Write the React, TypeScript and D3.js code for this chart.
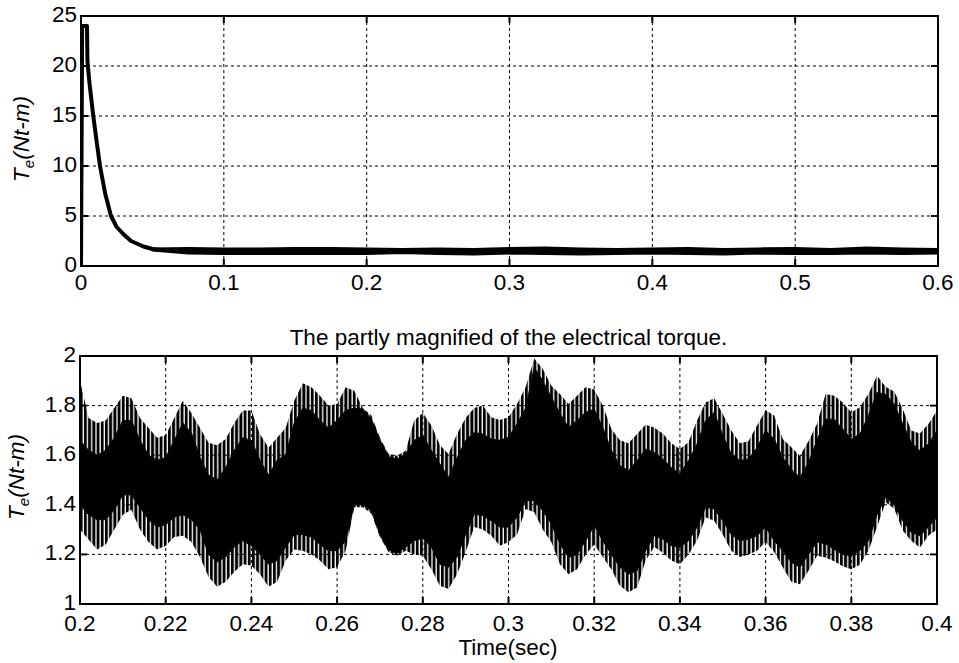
import React from 'react';
import * as d3 from 'd3';

// ---------- DATA ----------
// Top plot: start-up transient of electrical torque (Nt-m) vs time (s)
const decayTime = [0, 0.0008, 0.0042, 0.0045, 0.006, 0.0086, 0.011, 0.0133, 0.017, 0.021, 0.025, 0.0296, 0.035, 0.0437, 0.05, 0.056];
const decayTorque = [0, 24, 24, 20.5, 18.2, 15, 12.4, 10, 7.2, 5, 3.9, 3.2, 2.5, 1.95, 1.7, 1.6];
// Top plot: steady-state ripple band
const steadyTime = [0.05, 0.075, 0.1, 0.125, 0.15, 0.175, 0.2, 0.225, 0.25, 0.275, 0.3, 0.325, 0.35, 0.375, 0.4, 0.425, 0.45, 0.475, 0.5, 0.525, 0.55, 0.575, 0.6];
const steadyUpper = [1.75, 1.8, 1.75, 1.75, 1.8, 1.8, 1.75, 1.7, 1.75, 1.7, 1.8, 1.85, 1.75, 1.7, 1.75, 1.8, 1.7, 1.75, 1.8, 1.7, 1.85, 1.75, 1.7];
const steadyLower = [1.55, 1.25, 1.2, 1.2, 1.2, 1.2, 1.2, 1.3, 1.2, 1.15, 1.25, 1.2, 1.15, 1.2, 1.25, 1.2, 1.15, 1.25, 1.2, 1.2, 1.25, 1.2, 1.25];

// Bottom plot: magnified torque 0.2–0.4 s, envelopes sampled every 2 ms
const zoomStart = 0.2;
const zoomStep = 0.002;
const upperTip = [1.90, 1.75, 1.73, 1.74, 1.79, 1.84, 1.83, 1.75, 1.71, 1.67, 1.68, 1.75, 1.82, 1.77, 1.71, 1.65, 1.64, 1.665, 1.73, 1.78,
  1.78, 1.685, 1.63, 1.67, 1.71, 1.82, 1.89, 1.874, 1.84, 1.80, 1.806, 1.874, 1.86, 1.79, 1.76, 1.67, 1.605, 1.598, 1.618, 1.74,
  1.77, 1.72, 1.64, 1.605, 1.686, 1.75, 1.79, 1.80, 1.753, 1.742, 1.753, 1.806, 1.874, 1.99, 1.948, 1.88, 1.847, 1.806, 1.84, 1.874,
  1.865, 1.80, 1.706, 1.66, 1.648, 1.685, 1.723, 1.712, 1.688, 1.648, 1.625, 1.652, 1.74, 1.813, 1.83, 1.766, 1.70, 1.648, 1.656, 1.72,
  1.781, 1.76, 1.665, 1.632, 1.598, 1.656, 1.726, 1.847, 1.84, 1.813, 1.772, 1.793, 1.847, 1.92, 1.876, 1.857, 1.786, 1.70, 1.688, 1.726, 1.78];
const upperCore = [1.66, 1.62, 1.60, 1.62, 1.67, 1.74, 1.74, 1.66, 1.60, 1.58, 1.59, 1.66, 1.73, 1.69, 1.59, 1.52, 1.50, 1.55, 1.62, 1.67,
  1.66, 1.58, 1.52, 1.58, 1.60, 1.73, 1.79, 1.78, 1.74, 1.71, 1.74, 1.78, 1.79, 1.786, 1.745, 1.66, 1.594, 1.585, 1.605, 1.66,
  1.68, 1.62, 1.565, 1.51, 1.59, 1.66, 1.692, 1.685, 1.665, 1.66, 1.672, 1.726, 1.79, 1.954, 1.90, 1.833, 1.77, 1.712, 1.74, 1.773,
  1.785, 1.712, 1.62, 1.558, 1.538, 1.578, 1.625, 1.612, 1.585, 1.55, 1.524, 1.578, 1.645, 1.74, 1.772, 1.68, 1.605, 1.578, 1.585, 1.63,
  1.70, 1.665, 1.59, 1.544, 1.51, 1.57, 1.66, 1.745, 1.745, 1.706, 1.665, 1.685, 1.76, 1.853, 1.846, 1.806, 1.726, 1.652, 1.618, 1.645, 1.70];
const lowerCore = [1.40, 1.36, 1.34, 1.34, 1.38, 1.44, 1.44, 1.39, 1.34, 1.31, 1.32, 1.35, 1.36, 1.34, 1.30, 1.20, 1.17, 1.19, 1.23, 1.255,
  1.235, 1.20, 1.16, 1.175, 1.23, 1.28, 1.28, 1.27, 1.24, 1.215, 1.215, 1.255, 1.40, 1.40, 1.376, 1.28, 1.218, 1.204, 1.23, 1.255,
  1.265, 1.23, 1.16, 1.148, 1.19, 1.28, 1.363, 1.356, 1.336, 1.31, 1.31, 1.35, 1.417, 1.417, 1.376, 1.323, 1.242, 1.188, 1.20, 1.255,
  1.316, 1.255, 1.20, 1.148, 1.12, 1.134, 1.215, 1.275, 1.262, 1.235, 1.228, 1.255, 1.31, 1.39, 1.383, 1.336, 1.28, 1.255, 1.262, 1.275,
  1.31, 1.255, 1.215, 1.168, 1.148, 1.20, 1.25, 1.242, 1.22, 1.20, 1.195, 1.215, 1.255, 1.36, 1.43, 1.40, 1.336, 1.289, 1.275, 1.31, 1.35];
const lowerTip = [1.30, 1.26, 1.22, 1.24, 1.30, 1.36, 1.38, 1.30, 1.25, 1.22, 1.235, 1.27, 1.275, 1.25, 1.19, 1.11, 1.07, 1.09, 1.13, 1.16,
  1.155, 1.12, 1.07, 1.09, 1.175, 1.22, 1.215, 1.20, 1.175, 1.14, 1.148, 1.215, 1.39, 1.39, 1.365, 1.27, 1.21, 1.195, 1.215, 1.20,
  1.195, 1.14, 1.074, 1.06, 1.12, 1.21, 1.31, 1.30, 1.275, 1.235, 1.25, 1.28, 1.383, 1.37, 1.30, 1.25, 1.16, 1.12, 1.14, 1.20,
  1.24, 1.19, 1.14, 1.074, 1.047, 1.067, 1.175, 1.23, 1.208, 1.175, 1.16, 1.20, 1.255, 1.35, 1.336, 1.28, 1.215, 1.19, 1.20, 1.215,
  1.25, 1.21, 1.148, 1.09, 1.08, 1.134, 1.195, 1.188, 1.172, 1.152, 1.14, 1.158, 1.215, 1.31, 1.41, 1.385, 1.296, 1.255, 1.228, 1.275, 1.30];

// Ticks
const topXTicks = [0, 0.1, 0.2, 0.3, 0.4, 0.5, 0.6];
const topXLabels = ['0', '0.1', '0.2', '0.3', '0.4', '0.5', '0.6'];
const topYTicks = [0, 5, 10, 15, 20, 25];
const topYLabels = ['0', '5', '10', '15', '20', '25'];
const botXTicks = [0.2, 0.22, 0.24, 0.26, 0.28, 0.3, 0.32, 0.34, 0.36, 0.38, 0.4];
const botXLabels = ['0.2', '0.22', '0.24', '0.26', '0.28', '0.3', '0.32', '0.34', '0.36', '0.38', '0.4'];
const botYTicks = [1, 1.2, 1.4, 1.6, 1.8, 2];
const botYLabels = ['1', '1.2', '1.4', '1.6', '1.8', '2'];

const titleText = 'The partly magnified of the electrical torque.';
const xTitle = 'Time(sec)';

// ---------- LAYOUT ----------
const W = 959;
const H = 663;
const FONT = '"Liberation Sans", Arial, Helvetica, sans-serif';
const FS = 22.5;

type Sc = d3.ScaleLinear<number, number>;

function Grid({ x, y, xTicks, yTicks }: { x: Sc; y: Sc; xTicks: number[]; yTicks: number[] }) {
  const [x0, x1] = x.range();
  const [y0, y1] = y.range();
  return (
    <g>
      {xTicks.slice(1, -1).map((t, i) => (
        <line key={'gx' + i} x1={x(t)} x2={x(t)} y1={y1} y2={y0} stroke="#000" strokeWidth={1} strokeDasharray="3,3" />
      ))}
      {yTicks.slice(1, -1).map((t, i) => (
        <line key={'gy' + i} x1={x0} x2={x1} y1={y(t)} y2={y(t)} stroke="#000" strokeWidth={1} strokeDasharray="3,3" />
      ))}
    </g>
  );
}

function Axes(props: {
  x: Sc; y: Sc; xTicks: number[]; xLabels: string[]; yTicks: number[]; yLabels: string[];
  xLabelBaseline: number;
}) {
  const { x, y, xTicks, xLabels, yTicks, yLabels, xLabelBaseline } = props;
  const [x0, x1] = x.range();
  const [y0, y1] = y.range();
  const tl = 7;
  return (
    <g>
      {xTicks.map((t, i) => (
        <g key={'tx' + i}>
          <line x1={x(t)} x2={x(t)} y1={y0} y2={y0 - tl} stroke="#000" strokeWidth={2} />
          <line x1={x(t)} x2={x(t)} y1={y1} y2={y1 + tl} stroke="#000" strokeWidth={2} />
          <text x={x(t)} y={xLabelBaseline} textAnchor="middle" fontFamily={FONT} fontSize={FS} fill="#000">{xLabels[i]}</text>
        </g>
      ))}
      {yTicks.map((t, i) => (
        <g key={'ty' + i}>
          <line x1={x0} x2={x0 + tl} y1={y(t)} y2={y(t)} stroke="#000" strokeWidth={2} />
          <line x1={x1} x2={x1 - tl} y1={y(t)} y2={y(t)} stroke="#000" strokeWidth={2} />
          <text x={x0 - 4} y={y(t) + 6} textAnchor="end" fontFamily={FONT} fontSize={FS} fill="#000">{yLabels[i]}</text>
        </g>
      ))}
      <rect x={x0} y={y1} width={x1 - x0} height={y0 - y1} fill="none" stroke="#000" strokeWidth={2} />
    </g>
  );
}

function YLabel({ x, y }: { x: number; y: number }) {
  return (
    <text transform={`translate(${x},${y}) rotate(-90)`} textAnchor="middle" fontFamily={FONT} fontSize={FS} fontStyle="italic" fill="#000">
      T<tspan dy={5} fontSize={15}>e</tspan><tspan dy={-5}>(Nt-m)</tspan>
    </text>
  );
}

export default function App() {
  const xTop = d3.scaleLinear().domain([0, 0.6]).range([81, 938]);
  const yTop = d3.scaleLinear().domain([0, 25]).range([266, 16]);
  const xBot = d3.scaleLinear().domain([0.2, 0.4]).range([80, 937]);
  const yBot = d3.scaleLinear().domain([1, 2]).range([604, 356]);

  const decay = decayTime.map((t, i) => [t, decayTorque[i]] as [number, number]);
  const decayPath = d3.line<[number, number]>().x(d => xTop(d[0])).y(d => yTop(d[1]))(decay) || '';
  const steadyIdx = steadyTime.map((_, i) => i);
  const steadyPath = d3.area<number>()
    .x(i => xTop(steadyTime[i]))
    .y0(i => yTop(steadyLower[i]))
    .y1(i => yTop(steadyUpper[i]))(steadyIdx) || '';

  const idx = upperTip.map((_, i) => i);
  const tAt = (i: number) => zoomStart + i * zoomStep;
  const coreArea = d3.area<number>().x(i => xBot(tAt(i))).y0(i => yBot(lowerCore[i])).y1(i => yBot(upperCore[i]))(idx) || '';
  const upSpike = d3.area<number>().x(i => xBot(tAt(i))).y0(i => yBot(upperCore[i])).y1(i => yBot(upperTip[i]))(idx) || '';
  const loSpike = d3.area<number>().x(i => xBot(tAt(i))).y0(i => yBot(lowerTip[i])).y1(i => yBot(lowerCore[i]))(idx) || '';

  return (
    <svg width={W} height={H} viewBox={`0 0 ${W} ${H}`} style={{ position: 'absolute', left: 0, top: 0, display: 'block', background: '#fff' }}>
      <defs>
        <pattern id="spikes" width={4.2} height={20} patternUnits="userSpaceOnUse">
          <rect x={0} y={0} width={2.9} height={20} fill="#000" />
        </pattern>
        <clipPath id="clipTop"><rect x={81} y={16} width={857} height={250} /></clipPath>
        <clipPath id="clipBot"><rect x={80} y={356} width={857} height={248} /></clipPath>
      </defs>
      <rect x={0} y={0} width={W} height={H} fill="#fff" />

      {/* top plot */}
      <Grid x={xTop} y={yTop} xTicks={topXTicks} yTicks={topYTicks} />
      <g clipPath="url(#clipTop)">
        <path d={decayPath} fill="none" stroke="#000" strokeWidth={4} strokeLinejoin="round" strokeLinecap="round" />
        <path d={steadyPath} fill="#000" stroke="#000" strokeWidth={2.2} strokeLinejoin="round" />
      </g>
      <Axes x={xTop} y={yTop} xTicks={topXTicks} xLabels={topXLabels} yTicks={topYTicks} yLabels={topYLabels} xLabelBaseline={290} />
      <YLabel x={29} y={139} />

      {/* bottom plot */}
      <text x={508.5} y={345} textAnchor="middle" fontFamily={FONT} fontSize={FS} fill="#000">{titleText}</text>
      <Grid x={xBot} y={yBot} xTicks={botXTicks} yTicks={botYTicks} />
      <g clipPath="url(#clipBot)">
        <path d={upSpike} fill="url(#spikes)" />
        <path d={loSpike} fill="url(#spikes)" />
        <path d={coreArea} fill="#000" stroke="#000" strokeWidth={1} />
      </g>
      <Axes x={xBot} y={yBot} xTicks={botXTicks} xLabels={botXLabels} yTicks={botYTicks} yLabels={botYLabels} xLabelBaseline={631} />
      <YLabel x={24} y={477} />
      <text x={508} y={655} textAnchor="middle" fontFamily={FONT} fontSize={FS} fill="#000">{xTitle}</text>
    </svg>
  );
}
